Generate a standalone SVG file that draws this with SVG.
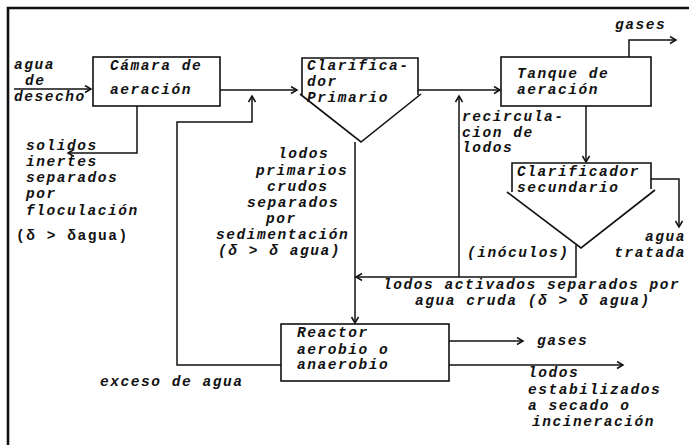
<svg xmlns="http://www.w3.org/2000/svg" width="689" height="445" viewBox="0 0 689 445">
<style>
text{font-family:"Liberation Mono","Courier New",monospace;font-size:14.5px;font-style:italic;font-weight:bold;letter-spacing:1.55px;fill:#111}
.up{font-style:normal}
.shape{fill:none;stroke:#111;stroke-width:1.6}
.c{fill:none;stroke:#111;stroke-width:1.5;marker-end:url(#ah)}
.frame{fill:none;stroke:#111;stroke-width:2.6}
</style>
<defs>
<marker id="ah" markerUnits="userSpaceOnUse" markerWidth="10" markerHeight="10" refX="7" refY="4" orient="auto">
<path d="M1,0.5 L7,4 L1,7.5" fill="none" stroke="#111" stroke-width="1.5"/>
</marker>
</defs>
<rect width="689" height="445" fill="#fff"/>
<path class="frame" d="M8,445 V8 H689"/>

<g id="connectors">
<path class="c" d="M14,89 H91"/>
<path class="c" d="M220,90 H297"/>
<path class="c" d="M137,106 V153 H68"/>
<path class="c" d="M281,365 H177 V122 H252 V96"/>
<path class="c" d="M418,90 H500"/>
<path class="c" d="M355,142 V323"/>
<path class="c" d="M586,106 V162"/>
<path class="c" d="M629,57 V40 H676"/>
<path class="c" d="M651,179 H679 V227"/>
<path class="c" d="M576,245 V277 H356"/>
<path class="c" d="M459,277 V96"/>
<path class="c" d="M449,341 H523"/>
<path class="c" d="M449,365 H623"/>
</g>

<g id="camara">
<rect class="shape" x="93" y="57" width="127" height="49"/>
<text x="110" y="70">Cámara de</text>
<text x="110" y="94">aeración</text>
</g>

<g id="clarificador-primario">
<path class="shape" d="M302,95 V58 H418 V95 M300,94 L361,142 L421,94"/>
<text x="307" y="70">Clarifica-</text>
<text x="307" y="86">dor</text>
<text x="307" y="102">Primario</text>
</g>

<g id="tanque">
<rect class="shape" x="501" y="57" width="150" height="49"/>
<text x="517" y="78">Tanque de</text>
<text x="517" y="94">aeración</text>
</g>

<g id="clarificador-secundario">
<path class="shape" d="M512,192 V163 H651 V189 M507,192 L581,248 L655,190"/>
<text x="517" y="176">Clarificador</text>
<text x="517" y="192">secundario</text>
</g>

<g id="reactor">
<rect class="shape" x="281" y="324" width="168" height="57"/>
<text x="297" y="337">Reactor</text>
<text x="297" y="354">aerobio o</text>
<text x="297" y="369">anaerobio</text>
</g>

<g id="labels">
<text x="14" y="69">agua</text>
<text x="25" y="85">de</text>
<text x="14" y="101">desecho</text>
<text x="26" y="150">solidos</text>
<text x="26" y="166">inertes</text>
<text x="26" y="182">separados</text>
<text x="26" y="198">por</text>
<text x="26" y="215">floculación</text>
<text class="up" x="16" y="240">(δ &gt; δagua)</text>

<text x="278" y="158">lodos</text>
<text x="256" y="175">primarios</text>
<text x="267" y="191">crudos</text>
<text x="247" y="207">separados</text>
<text x="266" y="223">por</text>
<text x="216" y="239">sedimentación</text>
<text x="218" y="255">(δ &gt; δ agua)</text>

<text x="462" y="121">recircula-</text>
<text x="462" y="137">cion de</text>
<text x="462" y="152">lodos</text>
<text x="467" y="257">(inóculos)</text>

<text x="615" y="29">gases</text>
<text x="686" y="241" text-anchor="end">agua</text>
<text x="686" y="257" text-anchor="end">tratada</text>

<text x="383" y="289">lodos activados separados por</text>
<text x="415" y="305">agua cruda (δ &gt; δ agua)</text>

<text x="100" y="386">exceso de agua</text>
<text x="537" y="345">gases</text>
<text x="528" y="377">lodos</text>
<text x="528" y="394">estabilizados</text>
<text x="528" y="410">a secado o</text>
<text x="532" y="426">incineración</text>
</g>
</svg>
